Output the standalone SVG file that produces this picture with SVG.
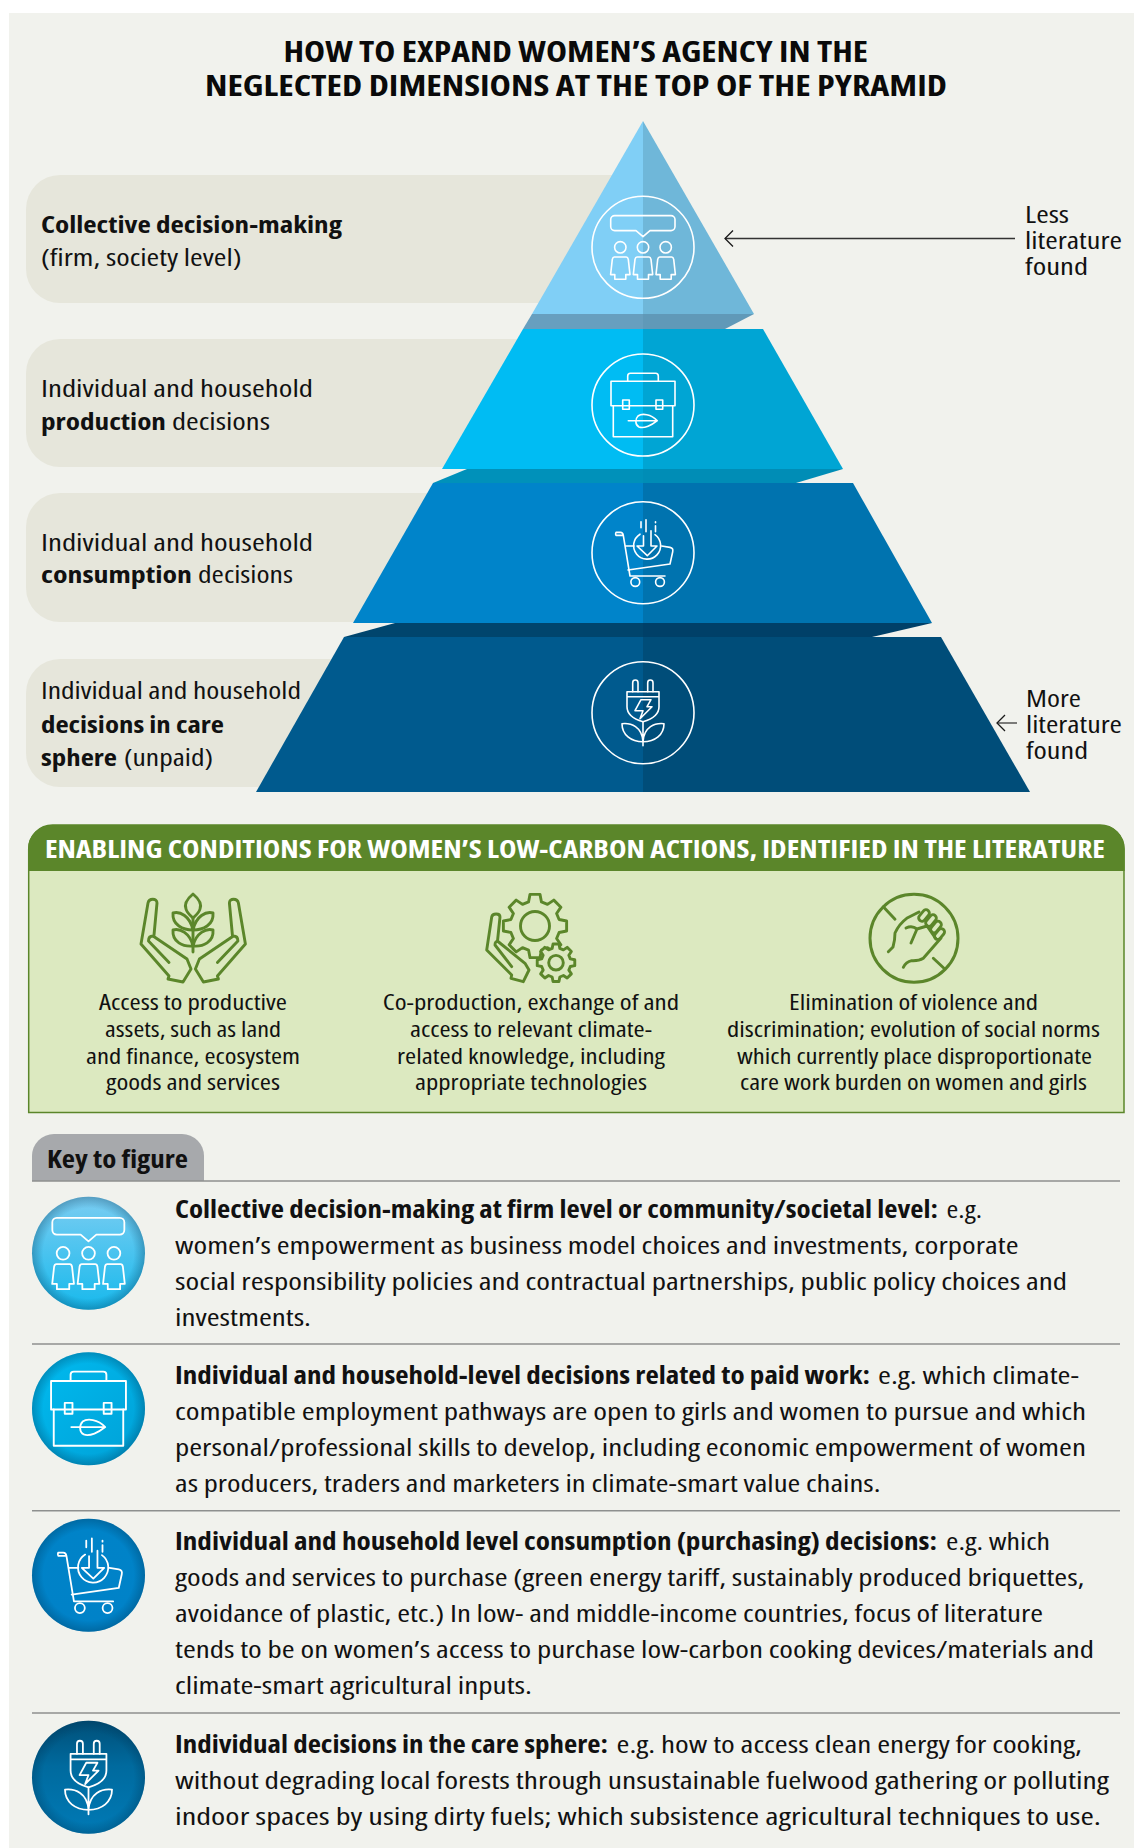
<svg xmlns="http://www.w3.org/2000/svg" xmlns:xlink="http://www.w3.org/1999/xlink" width="1134" height="1848" viewBox="0 0 1134 1848">
<style>
text{font-family:"Open Sans","Noto Sans","Liberation Sans",sans-serif;fill:#111;font-stretch:85%;}
.b{font-weight:700}
.ti{font-size:29px;font-weight:700;fill:#0a0a0a}
.p{font-size:23px}
.g{font-size:21.5px}
.k{font-size:24px}
.pill{fill:#e6e6db}
.ic{fill:none;stroke:#fff;stroke-width:1.6;stroke-linejoin:round;stroke-linecap:round}
.gi{fill:none;stroke:#5b862a;stroke-width:2.9;stroke-linejoin:round;stroke-linecap:round}
.rule{stroke:#8e908f;stroke-width:1.6;fill:none}
.vig{fill:url(#vig)}
</style>
<defs>
<marker id="open" viewBox="0 0 12 18" refX="11" refY="9" markerWidth="12" markerHeight="18" markerUnits="userSpaceOnUse" orient="auto">
<path d="M3,1 L11,9 L3,17" fill="none" stroke="#1a1a1a" stroke-width="1.3"/>
</marker>
<radialGradient id="vig" cx=".5" cy=".5" r=".5"><stop offset=".8" stop-color="#00304f" stop-opacity="0"/><stop offset="1" stop-color="#00304f" stop-opacity=".3"/></radialGradient>
<linearGradient id="k1" x1="0" y1="0" x2="0" y2="1"><stop offset="0" stop-color="#7bcdf2"/><stop offset="1" stop-color="#17b9ec"/></linearGradient>
<linearGradient id="k2" x1="0" y1="0" x2="1" y2="1"><stop offset="0" stop-color="#00bbf0"/><stop offset="1" stop-color="#00a0d6"/></linearGradient>
<linearGradient id="k3" x1="0" y1="0" x2="0" y2="1"><stop offset="0" stop-color="#0083c8"/><stop offset="1" stop-color="#0082c8"/></linearGradient>
<linearGradient id="k4" x1="0" y1="0" x2="0" y2="1"><stop offset="0" stop-color="#004f78"/><stop offset=".4" stop-color="#006a9e"/><stop offset="1" stop-color="#007ab6"/></linearGradient>
<g id="i1">
<path d="M-28.3,-31.7 H28 a4,4 0 0 1 4,4 V-20.7 a4,4 0 0 1 -4,4 H7 L0,-10.7 L-7,-16.7 H-28.3 a4,4 0 0 1 -4,-4 V-27.7 a4,4 0 0 1 4,-4Z"/>
<circle cx="-22.7" cy="0" r="5.7"/><circle cx="0" cy="0" r="5.7"/><circle cx="22.7" cy="0" r="5.7"/>
<path d="M-6,9.7 H6 Q7.5,9.7 8,12 L9.7,27.3 H5.5 V32 H-5.5 V27.3 H-9.7 L-8,12 Q-7.5,9.7 -6,9.7Z"/>
<path transform="translate(-22.7,0)" d="M-6,9.7 H6 Q7.5,9.7 8,12 L9.7,27.3 H5.5 V32 H-5.5 V27.3 H-9.7 L-8,12 Q-7.5,9.7 -6,9.7Z"/>
<path transform="translate(22.7,0)" d="M-6,9.7 H6 Q7.5,9.7 8,12 L9.7,27.3 H5.5 V32 H-5.5 V27.3 H-9.7 L-8,12 Q-7.5,9.7 -6,9.7Z"/>
</g>
<g id="i2">
<path d="M-15.3,-23.7 V-29 q0,-2.7 2.7,-2.7 H12.6 q2.7,0 2.7,2.7 V-23.7"/>
<rect x="-32" y="-23.7" width="64" height="24.4"/>
<path d="M-29.7,0.7 V31.7 H29.7 V0.7"/>
<rect x="-20.3" y="-5" width="6.6" height="9.3"/><rect x="13" y="-5" width="6.7" height="9.3"/>
<path d="M-14.7,15.7 H14.3 M14.3,15.7 C8,9 -1,8 -5,11 C-8,14 -8,20 -4,22 C1,24 9,20 14.3,15.7Z"/>
</g>
<g id="i3">
<path d="M-19.7,-17.3 H-27 a3,3 0 0 1 0,-3 H-22.5 q2.300,0 2.800,3 L-13,23.300 H22 M-18,-6.700 H-9 M18.700,-6.700 L27,-5.300 Q30.500,-4.500 29.700,-1 L27,11.300 L-15,17.300"/>
<circle cx="-7.700" cy="29.300" r="4.400"/><circle cx="17" cy="29.300" r="4.400"/>
<path d="M-3,-18.500 A13.500,13.500 0 1 0 12,-18"/>
<path d="M0.500,-17 V-6.700 H-6 L4.300,3 L14,-6.700 H8 V-22"/>
<path d="M-2,-31 V-25 M3,-33 V-21 M12.500,-31 V-30 M12.500,-27 V-21"/>
</g>
<g id="i4">
<path d="M-10.300,-21 V-30 a2.650,2.650 0 0 1 5.300,0 V-21 M4.700,-21 V-30 a2.650,2.650 0 0 1 5.300,0 V-21"/>
<path d="M-16,-21 H16 V-6 C16,3 7,7 0,9 C-7,7 -16,3 -16,-6Z M-16,-16 H16"/>
<path d="M-2,-13 H8 L4,-6 H9 L-3,6 L0,-2 H-8Z"/>
<path d="M0,9 V33 M-21,11 C-12,10 -1,14 0,29 C-12,29 -21,22 -21,11Z M21,11 C12,10 1,14 0,29 C12,29 21,22 21,11Z"/>
</g>
<polygon id="gear" vector-effect="non-scaling-stroke" points="75.3,-20.2 98.8,-15.6 98.8,15.6 75.3,20.2 67.5,39 80.9,58.8 58.8,80.9 39,67.5 20.2,75.3 15.6,98.8 -15.6,98.8 -20.2,75.3 -39,67.5 -58.8,80.9 -80.9,58.8 -67.5,39 -75.3,20.2 -98.8,15.6 -98.8,-15.6 -75.3,-20.2 -67.5,-39 -80.9,-58.8 -58.8,-80.9 -39,-67.5 -20.2,-75.3 -15.6,-98.8 15.6,-98.8 20.2,-75.3 39,-67.5 58.8,-80.9 80.9,-58.8 67.5,-39"/>
</defs>

<rect width="1134" height="1848" fill="#fff"/>
<rect x="9" y="13" width="1125" height="1835" fill="#f1f2ed"/>

<g id="title">
<text class="ti" x="283.500" y="62" textLength="584.500" lengthAdjust="spacingAndGlyphs">HOW TO EXPAND WOMEN’S AGENCY IN THE</text>
<text class="ti" x="205" y="96" textLength="742" lengthAdjust="spacingAndGlyphs">NEGLECTED DIMENSIONS AT THE TOP OF THE PYRAMID</text>
</g>

<g id="label-collective">
<rect class="pill" x="26" y="175" width="654" height="128" rx="34"/>
<text class="p b" x="41" y="232.500" textLength="301" lengthAdjust="spacingAndGlyphs">Collective decision-making</text>
<text class="p" x="41" y="265.500" textLength="200.500" lengthAdjust="spacingAndGlyphs">(firm, society level)</text>
</g>
<g id="label-production">
<rect class="pill" x="26" y="339" width="600" height="128" rx="34"/>
<text class="p" x="41" y="396.500" textLength="272" lengthAdjust="spacingAndGlyphs">Individual and household</text>
<text class="p" y="430"><tspan class="b" x="41" textLength="125" lengthAdjust="spacingAndGlyphs">production</tspan><tspan x="172" textLength="98" lengthAdjust="spacingAndGlyphs">decisions</tspan></text>
</g>
<g id="label-consumption">
<rect class="pill" x="26" y="493" width="500" height="129" rx="34"/>
<text class="p" x="41" y="550.500" textLength="272" lengthAdjust="spacingAndGlyphs">Individual and household</text>
<text class="p" y="583"><tspan class="b" x="41" textLength="151" lengthAdjust="spacingAndGlyphs">consumption</tspan><tspan x="198" textLength="95" lengthAdjust="spacingAndGlyphs">decisions</tspan></text>
</g>
<g id="label-care">
<rect class="pill" x="26" y="659" width="420" height="128" rx="34"/>
<text class="p" x="41" y="699" textLength="260" lengthAdjust="spacingAndGlyphs">Individual and household</text>
<text class="p b" x="41" y="732.500" textLength="183" lengthAdjust="spacingAndGlyphs">decisions in care</text>
<text class="p" y="766"><tspan class="b" x="41" textLength="76" lengthAdjust="spacingAndGlyphs">sphere</tspan><tspan x="124" textLength="89" lengthAdjust="spacingAndGlyphs">(unpaid)</tspan></text>
</g>

<g id="pyramid-top">
<polygon points="532,314 643,314 643,329 523,329" fill="#679fbf"/>
<polygon points="643,314 754,314 725,329 643,329" fill="#6099b8"/>
<polygon points="643,121 532,314 643,314" fill="#80cff6"/>
<polygon points="643,121 754,314 643,314" fill="#6fb7d9"/>
<circle class="ic" cx="643" cy="247.300" r="51"/>
<use xlink:href="#i1" href="#i1" class="ic" x="643" y="247.300"/>
</g>
<g id="pyramid-production">
<polygon points="467,469 643,469 643,483 433,483" fill="#0091ba"/>
<polygon points="643,469 843,469 796,483 643,483" fill="#008db6"/>
<polygon points="523,329 643,329 643,469 442,469" fill="#00bcf3"/>
<polygon points="643,329 763,329 843,469 643,469" fill="#00a5d4"/>
<circle class="ic" cx="643" cy="405" r="51"/>
<use xlink:href="#i2" href="#i2" class="ic" x="643" y="405"/>
</g>
<g id="pyramid-consumption">
<polygon points="395,623 643,623 643,637 344,637" fill="#00456d"/>
<polygon points="643,623 932,623 872,637 643,637" fill="#004068"/>
<polygon points="433,483 643,483 643,623 353,623" fill="#0084ca"/>
<polygon points="643,483 853,483 932,623 643,623" fill="#0073af"/>
<circle class="ic" cx="643" cy="552.700" r="51"/>
<use xlink:href="#i3" href="#i3" class="ic" x="643" y="552.700"/>
</g>
<g id="pyramid-care">
<polygon points="344,637 643,637 643,792 256,792" fill="#005a8e"/>
<polygon points="643,637 941,637 1030,792 643,792" fill="#004d79"/>
<circle class="ic" cx="643" cy="712.700" r="51"/>
<use xlink:href="#i4" href="#i4" class="ic" x="643" y="712.700"/>
</g>

<g id="connectors">
<line x1="1015" y1="238.500" x2="725" y2="238.500" stroke="#333" stroke-width="1.500" marker-end="url(#open)"/>
<line x1="1017" y1="723" x2="997" y2="723" stroke="#1a1a1a" stroke-width="1.100" marker-end="url(#open)"/>
</g>

<g id="note-less">
<text class="p" x="1025" y="222.500" textLength="44" lengthAdjust="spacingAndGlyphs">Less</text>
<text class="p" x="1025" y="249" textLength="97" lengthAdjust="spacingAndGlyphs">literature</text>
<text class="p" x="1025" y="275" textLength="63" lengthAdjust="spacingAndGlyphs">found</text>
</g>
<g id="note-more">
<text class="p" x="1026" y="706.500" textLength="55" lengthAdjust="spacingAndGlyphs">More</text>
<text class="p" x="1026" y="733" textLength="96" lengthAdjust="spacingAndGlyphs">literature</text>
<text class="p" x="1026" y="759" textLength="62" lengthAdjust="spacingAndGlyphs">found</text>
</g>

<g id="enabling">
<path d="M28.700,871 V849 a24,24 0 0 1 24,-24 H1100 a24,24 0 0 1 24,24 V1112.500 H28.700Z" fill="#dce9c0" stroke="#5b862a" stroke-width="1.500"/>
<path d="M28,871 V849 a24,24 0 0 1 24,-24 H1100 a24,24 0 0 1 24.700,24 V871Z" fill="#5b862a"/>
<text x="45" y="858" font-size="24" class="b" style="fill:#fff" textLength="1060" lengthAdjust="spacingAndGlyphs">ENABLING CONDITIONS FOR WOMEN’S LOW-CARBON ACTIONS, IDENTIFIED IN THE LITERATURE</text>
</g>
<g id="enabling-resources">
<g class="gi">
<path d="M193,894 C187,899 184,904 186,909 C187,913 190,915 193,918 C196,915 199,913 200,909 C202,904 199,899 193,894Z"/>
<path d="M173,913 C180,911 190,916 193,930 C183,930 172,925 173,913Z M213,913 C206,911 196,916 193,930 C203,930 214,925 213,913Z"/>
<path d="M173,930 C180,928 190,933 193,946 C183,947 172,942 173,930Z M213,930 C206,928 196,933 193,946 C203,947 214,942 213,930Z"/>
<path d="M193,918 V952"/>
<path d="M169,962.500 L148.500,941 Q148.500,936 153,936 L187,959 L191,969 L183,982 L168,979 L169,976 L141,944 L148,903 C149,898 157,898 157,903 L154,935"/>
<path transform="translate(386.400,0) scale(-1,1)" d="M169,962.500 L148.500,941 Q148.500,936 153,936 L187,959 L191,969 L183,982 L168,979 L169,976 L141,944 L148,903 C149,898 157,898 157,903 L154,935"/>
</g>
<text class="g" x="99" y="1010" textLength="188" lengthAdjust="spacingAndGlyphs">Access to productive</text>
<text class="g" x="105" y="1037" textLength="176" lengthAdjust="spacingAndGlyphs">assets, such as land</text>
<text class="g" x="86" y="1063.500" textLength="214" lengthAdjust="spacingAndGlyphs">and finance, ecosystem</text>
<text class="g" x="106" y="1090" textLength="174" lengthAdjust="spacingAndGlyphs">goods and services</text>
</g>
<g id="enabling-knowledge">
<g class="gi">
<path d="M511.700,966.700 L495,945 Q495,941 498,941.500 L525,963.300 L529,970 L523.300,981.700 L511,978.300 L511.700,975 L486.700,950 L491.700,917 C492.500,913 500,913 500,917 L497.500,941"/>
<g transform="translate(535,926) scale(.32)" style="fill:#dce9c0"><use xlink:href="#gear" href="#gear"/></g>
<circle cx="535" cy="926" r="14.500"/>
<g transform="translate(556,962.700) scale(.19)" style="fill:#dce9c0"><use xlink:href="#gear" href="#gear"/></g>
<circle cx="556" cy="962.700" r="7.300"/>
</g>
<text class="g" x="382.700" y="1010" textLength="296.300" lengthAdjust="spacingAndGlyphs">Co-production, exchange of and</text>
<text class="g" x="410" y="1037" textLength="242" lengthAdjust="spacingAndGlyphs">access to relevant climate-</text>
<text class="g" x="397" y="1063.500" textLength="268" lengthAdjust="spacingAndGlyphs">related knowledge, including</text>
<text class="g" x="415" y="1090" textLength="232" lengthAdjust="spacingAndGlyphs">appropriate technologies</text>
</g>
<g id="enabling-norms">
<g class="gi">
<circle cx="914" cy="938.300" r="44" stroke-width="3"/>
<path d="M883.300,906.700 L895,919.300 M933.300,958.300 L944,968.300"/>
<path d="M888.300,951.700 L893,947 Q895,940 895,933 Q899,924 906.700,918.300 L919,912 M903.300,967.300 Q906,962 911.700,960.700 Q919,961 923.300,958.300 L941,938"/>
<path d="M906,928 Q912,925 917,929 L911,943 M917,929 L927,926 L936,939"/>
<rect x="-3.300" y="-6.500" width="6.600" height="13" rx="3.300" transform="translate(924,915.500) rotate(40)"/>
<rect x="-3.300" y="-6.500" width="6.600" height="13" rx="3.300" transform="translate(931,920.500) rotate(40)"/>
<rect x="-3.300" y="-6.500" width="6.600" height="13" rx="3.300" transform="translate(936,927) rotate(40)"/>
<rect x="-3.300" y="-6" width="6.600" height="12" rx="3.300" transform="translate(939.500,934) rotate(40)"/>
</g>
<text class="g" x="789" y="1010" textLength="249" lengthAdjust="spacingAndGlyphs">Elimination of violence and</text>
<text class="g" x="727" y="1037" textLength="373" lengthAdjust="spacingAndGlyphs">discrimination; evolution of social norms</text>
<text class="g" x="737" y="1063.500" textLength="355" lengthAdjust="spacingAndGlyphs">which currently place disproportionate</text>
<text class="g" x="740" y="1090" textLength="347" lengthAdjust="spacingAndGlyphs">care work burden on women and girls</text>
</g>

<g id="key-header">
<path d="M32,1181 V1156 a22,22 0 0 1 22,-22 H182 a22,22 0 0 1 22,22 V1181Z" fill="#a7a9ac"/>
<text x="47" y="1168" font-size="25" class="b" textLength="141" lengthAdjust="spacingAndGlyphs">Key to figure</text>
<path class="rule" d="M32,1181 H1120 M32,1344 H1120 M32,1510.700 H1120 M32,1713 H1120"/>
</g>

<g id="key-collective">
<circle cx="88.500" cy="1253.300" r="56.500" fill="url(#k1)"/><circle class="vig" cx="88.500" cy="1253.300" r="56.500"/>
<use xlink:href="#i1" href="#i1" class="ic" transform="translate(88.500,1253.300) scale(1.120)"/>
<text class="k" y="1217.500"><tspan class="b" x="175" textLength="763" lengthAdjust="spacingAndGlyphs">Collective decision-making at firm level or community/societal level:</tspan><tspan x="946.500" textLength="35.500" lengthAdjust="spacingAndGlyphs">e.g.</tspan></text>
<text class="k" x="175" y="1253.500" textLength="843.500" lengthAdjust="spacingAndGlyphs">women’s empowerment as business model choices and investments, corporate</text>
<text class="k" x="175" y="1289.500" textLength="892" lengthAdjust="spacingAndGlyphs">social responsibility policies and contractual partnerships, public policy choices and</text>
<text class="k" x="175" y="1325.500" textLength="136" lengthAdjust="spacingAndGlyphs">investments.</text>
</g>
<g id="key-production">
<circle cx="88.500" cy="1408.700" r="56.500" fill="url(#k2)"/><circle class="vig" cx="88.500" cy="1408.700" r="56.500"/>
<use xlink:href="#i2" href="#i2" class="ic" transform="translate(88.500,1408.700) scale(1.170)"/>
<text class="k" y="1383.500"><tspan class="b" x="175" textLength="695" lengthAdjust="spacingAndGlyphs">Individual and household-level decisions related to paid work:</tspan><tspan x="878" textLength="201" lengthAdjust="spacingAndGlyphs">e.g. which climate-</tspan></text>
<text class="k" x="175" y="1419.500" textLength="911" lengthAdjust="spacingAndGlyphs">compatible employment pathways are open to girls and women to pursue and which</text>
<text class="k" x="175" y="1455.500" textLength="911" lengthAdjust="spacingAndGlyphs">personal/professional skills to develop, including economic empowerment of women</text>
<text class="k" x="175" y="1491.500" textLength="705.500" lengthAdjust="spacingAndGlyphs">as producers, traders and marketers in climate-smart value chains.</text>
</g>
<g id="key-consumption">
<circle cx="88.500" cy="1575.300" r="56.500" fill="url(#k3)"/><circle class="vig" cx="88.500" cy="1575.300" r="56.500"/>
<use xlink:href="#i3" href="#i3" class="ic" transform="translate(88.500,1575.300) scale(1.120)"/>
<text class="k" y="1549.500"><tspan class="b" x="175" textLength="762" lengthAdjust="spacingAndGlyphs">Individual and household level consumption (purchasing) decisions:</tspan><tspan x="946" textLength="104" lengthAdjust="spacingAndGlyphs">e.g. which</tspan></text>
<text class="k" x="175" y="1585.500" textLength="909.500" lengthAdjust="spacingAndGlyphs">goods and services to purchase (green energy tariff, sustainably produced briquettes,</text>
<text class="k" x="175" y="1621.500" textLength="868" lengthAdjust="spacingAndGlyphs">avoidance of plastic, etc.) In low- and middle-income countries, focus of literature</text>
<text class="k" x="175" y="1657.500" textLength="919" lengthAdjust="spacingAndGlyphs">tends to be on women’s access to purchase low-carbon cooking devices/materials and</text>
<text class="k" x="175" y="1693.500" textLength="357" lengthAdjust="spacingAndGlyphs">climate-smart agricultural inputs.</text>
</g>
<g id="key-care">
<circle cx="88.500" cy="1777.300" r="56.500" fill="url(#k4)"/><circle class="vig" cx="88.500" cy="1777.300" r="56.500"/>
<use xlink:href="#i4" href="#i4" class="ic" transform="translate(88.500,1777.300) scale(1.120)"/>
<text class="k" y="1752.500"><tspan class="b" x="175" textLength="433" lengthAdjust="spacingAndGlyphs">Individual decisions in the care sphere:</tspan><tspan x="616.500" textLength="465.500" lengthAdjust="spacingAndGlyphs">e.g. how to access clean energy for cooking,</tspan></text>
<text class="k" x="175" y="1788.500" textLength="934" lengthAdjust="spacingAndGlyphs">without degrading local forests through unsustainable fuelwood gathering or polluting</text>
<text class="k" x="175" y="1824.500" textLength="926" lengthAdjust="spacingAndGlyphs">indoor spaces by using dirty fuels; which subsistence agricultural techniques to use.</text>
</g>
</svg>
